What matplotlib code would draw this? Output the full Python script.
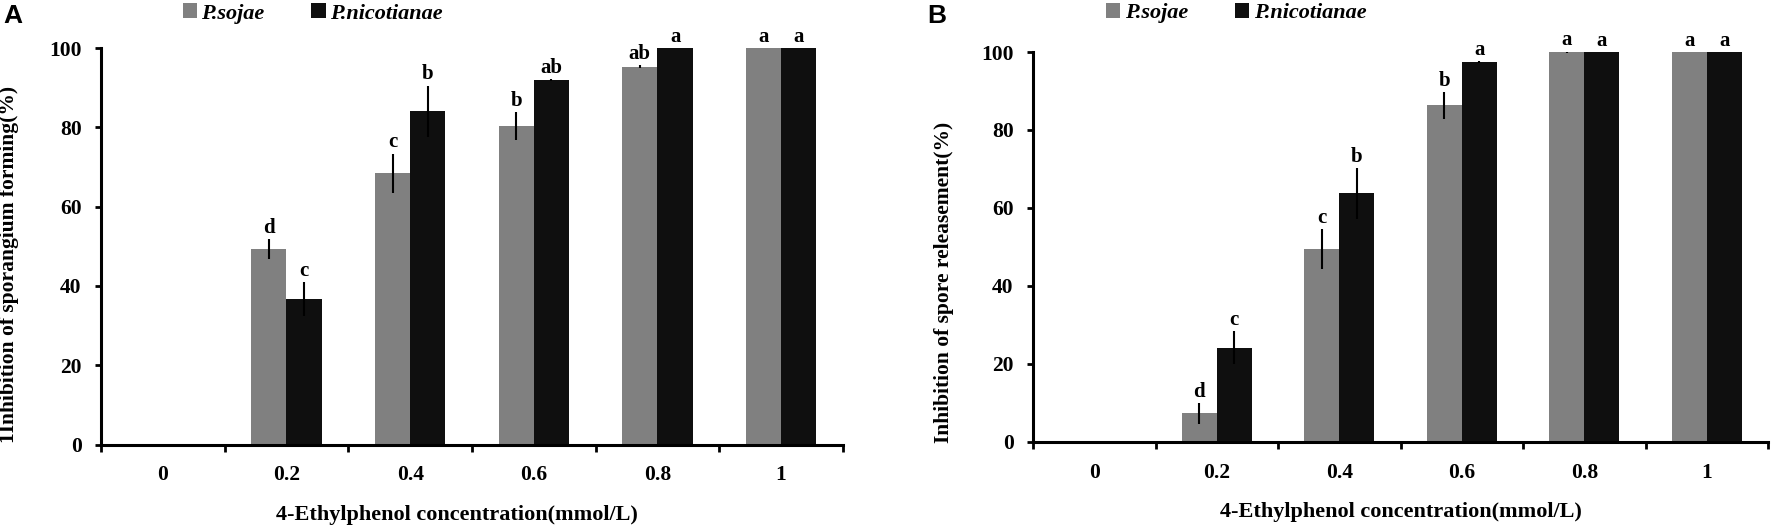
import matplotlib
matplotlib.use("Agg")
import matplotlib.pyplot as plt
from matplotlib.patches import Patch
import numpy as np

categories = ["0", "0.2", "0.4", "0.6", "0.8", "1"]
series_names = ["P.sojae", "P.nicotianae"]

# Panel A: inhibition of sporangium forming (%)
a_sojae = [0, 49.3, 68.4, 80.3, 95.3, 100]
a_sojae_err = [0, 2.5, 5.0, 3.5, 0.3, 0]
a_nico = [0, 36.7, 84.0, 92.0, 100, 100]
a_nico_err = [0, 4.2, 6.5, 0.2, 0, 0]
a_sojae_letters = ["", "d", "c", "b", "ab", "a"]
a_nico_letters = ["", "c", "b", "ab", "a", "a"]

# Panel B: inhibition of spore releasement (%)
b_sojae = [0, 7.3, 49.4, 86.3, 100, 100]
b_sojae_err = [0, 2.6, 5.1, 3.5, 0.3, 0]
b_nico = [0, 24.2, 63.8, 97.4, 100, 100]
b_nico_err = [0, 4.3, 6.5, 0.3, 0, 0]
b_sojae_letters = ["", "d", "c", "b", "a", "a"]
b_nico_letters = ["", "c", "b", "a", "a", "a"]

yticks = [0, 20, 40, 60, 80, 100]

SERIF = "Liberation Serif"
GRAY = "#808080"
BLACK = "#0f0f0f"

fig = plt.figure(figsize=(17.72, 5.28), dpi=100)
axA = fig.add_axes([0.0570, 0.1580, 0.4187, 0.7510])
axB = fig.add_axes([0.5830, 0.1630, 0.4148, 0.7385])


def draw(ax, s_vals, s_err, n_vals, n_err, s_let, n_let, ylabel, ylab_xy, xlab_xy, leg_xy):
    x = np.arange(len(categories))
    w = 0.285
    ax.bar(x - w / 2, s_vals, w, color=GRAY, edgecolor="none", zorder=2)
    ax.bar(x + w / 2, n_vals, w, color=BLACK, edgecolor="none", zorder=2)
    for xs, vals, errs in ((x - w / 2, s_vals, s_err), (x + w / 2, n_vals, n_err)):
        ax.errorbar(xs, vals, yerr=errs, fmt="none", ecolor="black",
                    elinewidth=1.5, capsize=0, zorder=3)
    for xs, vals, errs, lets in ((x - w / 2, s_vals, s_err, s_let),
                                 (x + w / 2, n_vals, n_err, n_let)):
        for xi, v, e, l in zip(xs, vals, errs, lets):
            if l:
                ax.annotate(l, (xi, v + e), xytext=(0, 4.5), textcoords="offset points",
                            ha="center", va="baseline", fontsize=15,
                            fontweight="bold", family=SERIF, annotation_clip=False)
    ax.set_xlim(-0.5, len(categories) - 0.5)
    ax.set_ylim(0, 100)
    ax.set_yticks(yticks)
    ax.set_yticklabels([str(t) for t in yticks], fontsize=15.5, fontweight="bold", family=SERIF)
    ax.set_xticks(np.arange(len(categories) + 1) - 0.5)
    ax.set_xticklabels([])
    ax.set_xticks(x, minor=True)
    ax.set_xticklabels(categories, minor=True, fontsize=15.5, fontweight="bold", family=SERIF)
    ax.tick_params(axis="x", which="major", direction="out", length=5, width=2)
    ax.tick_params(axis="x", which="minor", length=0, pad=15)
    ax.tick_params(axis="y", direction="out", length=4, width=2, pad=10)
    for s in ("top", "right"):
        ax.spines[s].set_visible(False)
    for s in ("left", "bottom"):
        ax.spines[s].set_linewidth(2.2)
    ax.set_ylabel(ylabel, fontsize=15.5, fontweight="bold", family=SERIF)
    ax.yaxis.set_label_coords(*ylab_xy)
    ax.set_xlabel("4-Ethylphenol concentration(mmol/L)", fontsize=16,
                  fontweight="bold", family=SERIF)
    ax.xaxis.set_label_coords(*xlab_xy)
    handles = [Patch(facecolor=GRAY, edgecolor="none", label=series_names[0]),
               Patch(facecolor=BLACK, edgecolor="none", label=series_names[1])]
    ax.legend(handles=handles, loc="center left", bbox_to_anchor=leg_xy,
              ncol=2, frameon=False, handlelength=0.65, handleheight=0.65,
              handletextpad=0.2, columnspacing=2.1, borderaxespad=0,
              borderpad=0,
              prop={"family": SERIF, "weight": "bold", "style": "italic", "size": 16})


draw(axA, a_sojae, a_sojae_err, a_nico, a_nico_err, a_sojae_letters, a_nico_letters,
     "1Inhibition of sporangium forming(%)", (-0.110, 0.455), (0.48, -0.153), (0.11, 1.087))
draw(axB, b_sojae, b_sojae_err, b_nico, b_nico_err, b_sojae_letters, b_nico_letters,
     "Inhibition of spore releasement(%)", (-0.108, 0.41), (0.50, -0.155), (0.099, 1.10))

fig.text(0.002, 0.970, "A", fontsize=19, fontweight="bold", family="Liberation Sans",
         ha="left", va="center")
fig.text(0.523, 0.970, "B", fontsize=19, fontweight="bold", family="Liberation Sans",
         ha="left", va="center")

fig.savefig("out.png", dpi=100)
